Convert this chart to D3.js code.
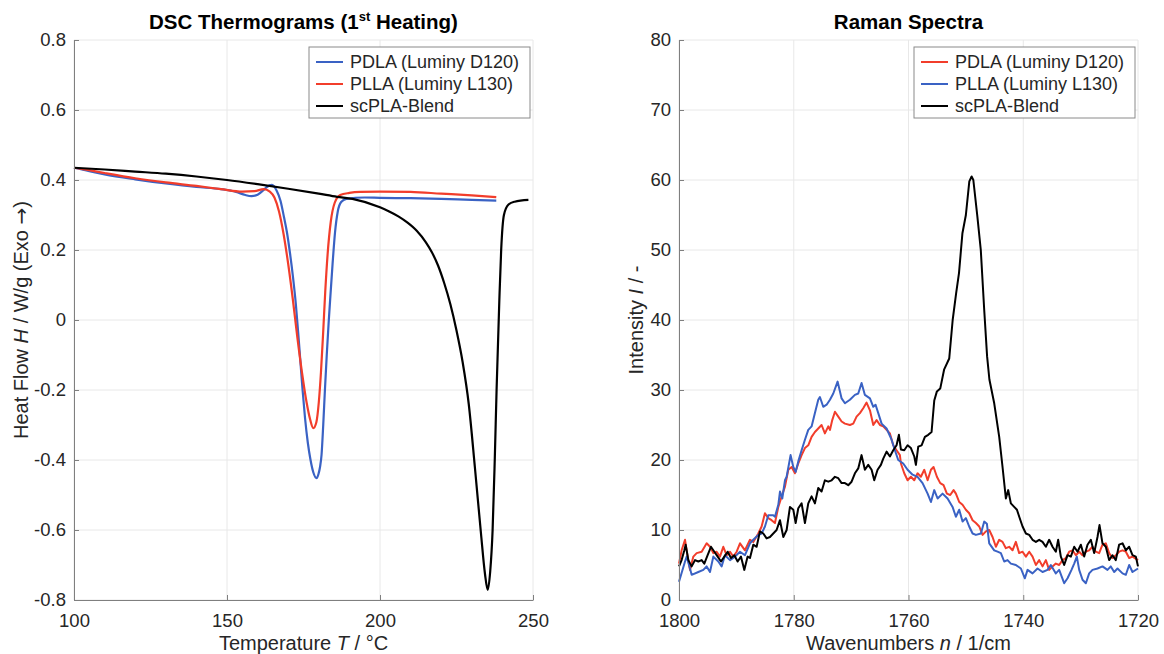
<!DOCTYPE html>
<html>
<head>
<meta charset="utf-8">
<script src="https://cdn.jsdelivr.net/npm/d3@7"></script>
<style>
body { margin: 0; background: #fff; }
</style>
</head>
<body>
<div id="chart"></div>
<script>
// ---- DSC thermograms (1st heating) ----
const dscTicksX = [100, 150, 200, 250];
const dscTicksY = [-0.8, -0.6, -0.4, -0.2, 0, 0.2, 0.4, 0.6, 0.8];

const pdlaDscT = [100, 105, 110, 120, 130, 140, 148, 153, 156, 158, 160, 162, 163, 164.7, 166.2, 167.5, 168.6, 169.6, 170.6, 171.6, 172.5, 173.3, 174, 174.7, 175.5, 176.4, 177.3, 178.2, 179.3, 179.9, 180.4, 180.9, 181.45, 182, 182.6, 183.2, 183.8, 184.5, 185.3, 186.2, 187.3, 189, 195, 200, 210, 220, 230, 238];
const pdlaDscH = [0.435, 0.425, 0.416, 0.402, 0.39, 0.38, 0.374, 0.366, 0.357, 0.354, 0.358, 0.372, 0.38, 0.386, 0.37, 0.34, 0.295, 0.25, 0.19, 0.12, 0.045, -0.04, -0.12, -0.2, -0.28, -0.35, -0.4, -0.435, -0.452, -0.44, -0.42, -0.385, -0.3, -0.2, -0.1, -0.01, 0.07, 0.16, 0.25, 0.31, 0.337, 0.346, 0.35, 0.349, 0.348, 0.346, 0.343, 0.341];

const pllaDscT = [100, 105, 110, 120, 130, 140, 148, 155, 159, 162, 164, 165.5, 167, 168.5, 170, 171.5, 173, 174.5, 176, 177.2, 178.2, 179.2, 180, 180.7, 181.4, 182.1, 182.9, 183.9, 185.2, 187, 190, 193.5, 200, 210, 220, 230, 238];
const pllaDscH = [0.435, 0.428, 0.42, 0.405, 0.393, 0.383, 0.374, 0.367, 0.368, 0.374, 0.367, 0.35, 0.31, 0.245, 0.16, 0.06, -0.05, -0.15, -0.235, -0.285, -0.309, -0.292, -0.235, -0.15, -0.04, 0.08, 0.19, 0.28, 0.335, 0.357, 0.363, 0.366, 0.367, 0.366, 0.361, 0.356, 0.351];

const blendDscT = [100, 110, 120, 130, 140, 150, 160, 170, 180, 186, 191, 200, 203, 206, 209, 212, 215, 217, 219, 221, 223, 225, 227, 229, 231, 233, 234.3, 235.2, 236, 236.8, 237.5, 238.1, 239, 239.6, 240.5, 242, 244, 248.5];
const blendDscH = [0.435, 0.43, 0.424, 0.418, 0.41, 0.4, 0.388, 0.375, 0.361, 0.352, 0.346, 0.322, 0.31, 0.296, 0.278, 0.255, 0.222, 0.193, 0.155, 0.105, 0.045, -0.03, -0.12, -0.24, -0.42, -0.61, -0.725, -0.771, -0.72, -0.6, -0.4, -0.2, 0.057, 0.2, 0.3, 0.33, 0.338, 0.343];

// ---- Raman spectra ----
const ramanTicksX = [1800, 1780, 1760, 1740, 1720];
const ramanTicksY = [0, 10, 20, 30, 40, 50, 60, 70, 80];

const pdlaRamanWn = [1800, 1799.54, 1798.95, 1798.49, 1798.08, 1797.5, 1796.92, 1796.05, 1795.18, 1794.6,
  1794.02, 1793.44, 1792.86, 1792.28, 1791.7, 1791.11, 1790.53, 1789.95, 1789.37, 1788.5,
  1787.63, 1787.05, 1786.18, 1785.6, 1785.02, 1784.44, 1783.86, 1783.28, 1782.69, 1782.11,
  1781.53, 1780.95, 1780.37, 1779.79, 1779.21, 1778.63, 1778.05, 1777.47, 1776.89, 1776.31,
  1775.73, 1775.15, 1774.57, 1773.98, 1773.69, 1773.29, 1772.82, 1772.24, 1771.66, 1771.08,
  1770.21, 1769.63, 1769.05, 1768.47, 1767.89, 1767.31, 1766.72, 1766.14, 1765.56, 1764.98,
  1764.4, 1763.82, 1763.24, 1762.66, 1762.08, 1761.5, 1761.32, 1760.74, 1760.16,
  1759.58, 1759.0, 1758.42, 1757.84, 1757.25, 1756.67, 1756.09, 1755.63, 1755.05, 1754.47,
  1753.89, 1753.31, 1752.73, 1752.14, 1751.74, 1751.16, 1750.58, 1750.0, 1749.42, 1748.83,
  1748.25, 1747.67, 1747.09, 1746.51, 1745.93, 1745.35, 1744.77, 1744.19, 1743.61, 1743.03,
  1742.45, 1741.87, 1741.29, 1740.71, 1740.12, 1739.54, 1738.96, 1738.38, 1737.8, 1737.22,
  1736.64, 1736.06, 1735.48, 1734.9, 1734.32, 1733.74, 1733.16, 1732.57, 1731.99, 1731.41,
  1730.83, 1730.25, 1729.67, 1729.09, 1728.51, 1727.93, 1727.35, 1726.77, 1726.19, 1725.61,
  1725.03, 1724.45, 1723.87, 1723.29, 1722.7, 1722.12, 1721.54, 1720.96, 1720.0];
const pdlaRamanInt = [5.2, 7.1, 8.6, 6.2, 4.3, 6.2, 6.7, 6.9, 8.1, 7.6,
  6.7, 6.9, 6.2, 7.6, 6.4, 6.9, 6.2, 6.9, 8.1, 7.1,
  8.6, 8.3, 9.5, 10.5, 12.4, 11.7, 11.4, 11.0, 13.3, 14.8,
  16.2, 18.6, 19.0, 18.1, 19.5, 20.7, 21.7, 22.1, 23.3, 24.0,
  24.5, 25.0, 23.8, 24.8, 24.3, 25.7, 26.9, 26.2, 25.5, 25.2,
  25.0, 25.2, 26.2, 26.7, 27.4, 28.2, 27.1, 25.0, 25.7, 25.0,
  24.8, 24.3, 23.8, 22.1, 21.4, 20.7, 19.5, 18.1, 17.1,
  17.6, 17.1, 18.1, 17.6, 18.6, 17.1, 18.6, 19.0, 17.6, 16.7,
  16.4, 15.2, 15.0, 15.7, 15.2, 14.0, 13.6, 12.9, 12.4, 11.4,
  11.0, 10.5, 9.3, 9.8, 10.0, 9.0, 7.6, 8.6, 8.3, 7.4,
  7.6, 7.1, 8.3, 6.7, 6.9, 6.2, 6.9, 6.2, 5.0, 5.7,
  4.8, 5.7, 4.3, 4.8, 5.2, 5.0, 5.7, 6.0, 6.9, 7.1,
  6.4, 6.9, 6.4, 6.9, 7.1, 7.6, 6.9, 6.7, 7.9, 8.1,
  6.7, 6.0, 6.4, 6.9, 7.1, 6.9, 6.0, 6.2, 5.7];

const pllaRamanWn = [1800, 1798.95, 1798.66, 1797.79, 1796.63, 1795.76, 1795.18, 1794.6, 1794.02, 1793.15,
  1792.57, 1791.99, 1791.11, 1790.24, 1789.37, 1788.5, 1787.63, 1787.05, 1786.18, 1785.6,
  1785.02, 1784.44, 1783.57, 1783.28, 1782.69, 1782.4, 1782.0, 1781.53, 1781.24, 1780.55,
  1780.08, 1779.67, 1779.21, 1778.63, 1778.05, 1777.47, 1776.89, 1776.31, 1775.73, 1775.44,
  1774.86, 1774.27, 1773.69, 1773.11, 1772.36, 1771.66, 1771.08, 1770.21, 1769.34, 1768.76,
  1768.18, 1767.6, 1766.72, 1766.14, 1765.74, 1765.27, 1764.69, 1763.82, 1762.95, 1762.37,
  1761.79, 1760.92, 1760.16, 1759.29, 1758.42, 1757.55, 1756.67, 1756.09, 1755.51, 1754.93,
  1754.06, 1753.19, 1752.32, 1751.74, 1751.16, 1750.58, 1750.0, 1749.42, 1748.83, 1748.25,
  1747.38, 1746.8, 1746.34, 1745.93, 1745.06, 1744.48, 1743.9, 1743.32, 1742.74, 1742.16,
  1741.29, 1740.41, 1739.72, 1739.25, 1738.38, 1737.51, 1736.64, 1735.77, 1735.19, 1734.32,
  1733.74, 1732.87, 1732.28, 1731.59, 1731.12, 1730.66, 1730.25, 1729.67, 1729.09, 1728.51,
  1727.93, 1727.06, 1726.19, 1725.32, 1724.74, 1724.15, 1723.57, 1722.7, 1722.12, 1721.54,
  1720.96, 1720.0];
const pllaRamanInt = [2.6, 5.5, 6.2, 3.6, 4.0, 4.3, 4.8, 4.0, 6.2, 5.5,
  4.8, 6.4, 5.7, 6.2, 6.9, 6.4, 8.1, 8.6, 9.3, 9.5,
  10.5, 12.1, 12.1, 11.9, 13.6, 15.5, 14.5, 17.1, 17.6, 20.7,
  19.0, 18.3, 19.8, 21.4, 22.9, 24.3, 24.8, 26.7, 28.6, 29.0,
  27.6, 27.9, 28.6, 29.5, 31.2, 28.8, 28.1, 28.6, 29.3, 29.5,
  31.0, 29.3, 28.8, 27.6, 27.9, 26.7, 25.2, 24.5, 22.9, 21.4,
  20.0, 19.5, 18.6, 17.9, 17.6, 16.7, 15.2, 14.0, 15.7, 14.5,
  15.2, 14.5, 13.3, 11.9, 12.9, 11.2, 11.7, 10.5, 9.5, 9.3,
  9.5, 11.2, 10.9, 8.1, 7.1, 6.9, 6.7, 5.5, 5.7, 5.2,
  5.0, 4.5, 3.1, 4.3, 3.8, 4.5, 4.0, 4.3, 5.0, 3.8,
  4.3, 2.4, 3.1, 4.3, 5.2, 6.2, 4.3, 2.9, 2.4, 3.8,
  4.3, 4.5, 4.8, 4.3, 4.8, 4.0, 4.5, 3.8, 3.6, 5.0,
  4.0, 4.5];

const blendRamanWn = [1800, 1799.54, 1799.07, 1798.84, 1798.37, 1797.79, 1797.21, 1796.63, 1796.05, 1795.59,
  1795.01, 1794.43, 1793.84, 1793.26, 1792.68, 1792.1, 1791.52, 1790.94, 1790.36, 1789.78,
  1789.2, 1788.62, 1788.04, 1787.63, 1787.05, 1786.47, 1785.89, 1785.31, 1784.73, 1784.15,
  1783.57, 1782.99, 1782.4, 1781.82, 1781.24, 1780.66, 1780.08, 1779.67, 1779.21, 1778.63,
  1778.05, 1777.47, 1776.89, 1776.31, 1775.73, 1775.15, 1774.57, 1773.98, 1773.4, 1772.82,
  1772.24, 1771.66, 1771.08, 1770.5, 1769.92, 1769.34, 1768.76, 1768.18, 1767.6, 1767.02,
  1766.43, 1765.97, 1765.39, 1764.81, 1764.4, 1763.82, 1763.24, 1762.66, 1762.08, 1761.67,
  1761.32, 1760.74, 1760.16, 1759.58, 1758.99, 1758.71, 1758.3, 1757.72, 1757.14, 1756.56,
  1755.98, 1755.51, 1755.05, 1754.47, 1753.8, 1752.9, 1752.3, 1751.7, 1751.2, 1750.6,
  1750.0, 1749.4, 1749.0, 1748.7, 1748.0, 1747.4, 1746.8, 1746.3, 1745.9, 1745.06,
  1744.19, 1743.61, 1743.03, 1742.62, 1742.16, 1741.58, 1741.1, 1740.7, 1740.12, 1739.54,
  1738.96, 1738.38, 1737.8, 1737.22, 1736.64, 1736.06, 1735.48, 1734.9, 1734.32, 1733.91,
  1733.45, 1732.87, 1732.28, 1731.7, 1731.12, 1730.54, 1729.96, 1729.38, 1728.8, 1728.22,
  1727.64, 1727.06, 1726.71, 1726.19, 1725.61, 1725.03, 1724.45, 1723.87, 1723.29, 1722.7,
  1722.12, 1721.54, 1720.96, 1720.38, 1720.0];
const blendRamanInt = [4.8, 5.7, 7.1, 7.9, 5.7, 4.8, 5.7, 5.5, 5.7, 5.2,
  6.4, 7.6, 6.9, 6.2, 5.5, 6.2, 6.9, 6.0, 6.4, 5.5,
  6.2, 4.3, 6.2, 6.0, 7.9, 7.6, 9.8, 9.5, 8.8, 9.0,
  9.5, 10.0, 11.4, 9.0, 10.0, 13.3, 12.9, 11.0, 13.1, 13.8,
  11.0, 13.8, 14.8, 13.8, 16.0, 15.5, 17.1, 16.9, 17.1, 17.6,
  17.4, 16.7, 16.7, 16.4, 16.9, 18.1, 18.8, 20.7, 18.6, 19.3,
  18.6, 17.1, 18.6, 19.3, 20.2, 21.2, 20.5, 21.4, 22.1, 23.6,
  21.5, 21.4, 22.1, 21.7, 20.5, 19.3, 21.9, 22.1, 23.3, 23.6,
  24.0, 28.5, 29.8, 30.2, 32.9, 34.5, 40.0, 43.8, 46.7, 52.4,
  55.0, 59.8, 60.5, 60.0, 54.8, 50.0, 41.4, 34.8, 31.5, 28.1,
  23.3, 19.0, 14.5, 15.7, 13.8, 13.3, 12.9, 11.9, 10.5, 9.5,
  9.3, 8.6, 8.3, 8.6, 8.3, 7.6, 8.6, 7.6, 6.9, 8.6,
  6.2, 5.0, 6.4, 6.2, 7.6, 6.9, 7.9, 6.2, 7.9, 8.6,
  6.7, 9.0, 10.7, 8.1, 7.6, 5.7, 6.4, 5.7, 7.9, 8.1,
  7.1, 7.6, 6.4, 6.2, 4.8];

const seriesNames = ["PDLA (Luminy D120)", "PLLA (Luminy L130)", "scPLA-Blend"];
const blue = "#3a62c4", red = "#f23d2b", black = "#000000";

const FONT = '"Liberation Sans", Arial, Helvetica, sans-serif';
const TXT = "#262626";

const svg = d3.select("#chart")
    .append("svg")
    .attr("width", 1164)
    .attr("height", 654)
    .style("font-family", FONT);

function addParts(sel, parts) {
    parts.forEach(p => {
        sel.append("tspan")
            .attr("font-style", p.italic ? "italic" : null)
            .attr("font-family", p.font || null)
            .attr("dy", p.dy || null)
            .attr("font-size", p.size || null)
            .text(p.text);
    });
}

function drawPanel(cfg) {
    const x = d3.scaleLinear().domain(cfg.xDomain).range([cfg.left, cfg.right]);
    const y = d3.scaleLinear().domain(cfg.yDomain).range([cfg.bottom, cfg.top]);
    const g = svg.append("g");

    // grid
    g.append("g").selectAll("line")
        .data(cfg.xTicks)
        .join("line")
        .attr("x1", d => x(d)).attr("x2", d => x(d))
        .attr("y1", cfg.top).attr("y2", cfg.bottom)
        .attr("stroke", "#e8e8e8").attr("stroke-width", 1);
    g.append("g").selectAll("line")
        .data(cfg.yTicks)
        .join("line")
        .attr("x1", cfg.left).attr("x2", cfg.right)
        .attr("y1", d => y(d)).attr("y2", d => y(d))
        .attr("stroke", "#e8e8e8").attr("stroke-width", 1);

    const line = d3.line()
        .x(d => x(d[0]))
        .y(d => y(d[1]))
        .curve(cfg.curve);

    cfg.series.forEach(s => {
        g.append("path")
            .datum(d3.zip(s.xs, s.ys))
            .attr("d", line)
            .attr("fill", "none")
            .attr("stroke", s.color)
            .attr("stroke-width", cfg.lineWidth)
            .attr("stroke-linejoin", "round");
    });

    const xAxis = g.append("g")
        .attr("transform", `translate(0,${cfg.bottom})`)
        .call(d3.axisBottom(x).tickValues(cfg.xTicks).tickSize(-5).tickSizeOuter(0).tickPadding(14).tickFormat(d => String(d)));
    const yAxis = g.append("g")
        .attr("transform", `translate(${cfg.left},0)`)
        .call(d3.axisLeft(y).tickValues(cfg.yTicks).tickSize(-5).tickSizeOuter(0).tickPadding(8).tickFormat(cfg.yFormat));
    [xAxis, yAxis].forEach(a => {
        a.attr("font-family", FONT).attr("font-size", 18.5);
        a.select(".domain").attr("stroke", "#7f7f7f");
        a.selectAll(".tick line").attr("stroke", "#7f7f7f");
        a.selectAll(".tick text").attr("fill", TXT);
    });

    const cx = (cfg.left + cfg.right) / 2;

    // title
    const t = g.append("text")
        .attr("x", cx).attr("y", 29)
        .attr("text-anchor", "middle")
        .attr("font-weight", "bold")
        .attr("font-size", 20.5)
        .attr("fill", "#000");
    addParts(t, cfg.title);

    // x label
    const xl = g.append("text")
        .attr("x", cx).attr("y", 650)
        .attr("text-anchor", "middle")
        .attr("font-size", 20)
        .attr("fill", TXT);
    addParts(xl, cfg.xLabel);

    // y label
    const yl = g.append("text")
        .attr("transform", `translate(${cfg.yLabelX},${(cfg.top + cfg.bottom) / 2}) rotate(-90)`)
        .attr("text-anchor", "middle")
        .attr("font-size", 20)
        .attr("fill", TXT);
    addParts(yl, cfg.yLabel);

    // legend
    const lw = 221;
    const lg = g.append("g").attr("transform", `translate(${cfg.right - lw - 3},47)`);
    lg.append("rect")
        .attr("width", lw).attr("height", 71)
        .attr("fill", "#fff").attr("stroke", "#8a8a8a").attr("stroke-width", 1);
    cfg.legend.forEach((d, i) => {
        const yy = 15 + i * 22;
        lg.append("line")
            .attr("x1", 7).attr("x2", 34).attr("y1", yy).attr("y2", yy)
            .attr("stroke", d.color).attr("stroke-width", 2);
        lg.append("text")
            .attr("x", 41).attr("y", yy).attr("dy", "0.36em")
            .attr("font-size", 18).attr("fill", TXT)
            .text(d.name);
    });
}

drawPanel({
    left: 74, right: 533, top: 40, bottom: 600,
    xDomain: [100, 250], yDomain: [-0.8, 0.8],
    xTicks: dscTicksX, yTicks: dscTicksY,
    yFormat: d => String(+d.toFixed(1)),
    curve: d3.curveMonotoneX, lineWidth: 2.2,
    series: [
        {xs: pdlaDscT, ys: pdlaDscH, color: blue},
        {xs: pllaDscT, ys: pllaDscH, color: red},
        {xs: blendDscT, ys: blendDscH, color: black}
    ],
    title: [{text: "DSC Thermograms (1"}, {text: "st", dy: -8, size: 13}, {text: " Heating)", dy: 8}],
    xLabel: [{text: "Temperature "}, {text: "T", italic: true}, {text: " / °C"}],
    yLabel: [{text: "Heat Flow "}, {text: "H", italic: true}, {text: " / W/g (Exo "}, {text: "→", font: "DejaVu Sans"}, {text: ")"}],
    yLabelX: 28,
    legend: [
        {name: seriesNames[0], color: blue},
        {name: seriesNames[1], color: red},
        {name: seriesNames[2], color: black}
    ]
});

drawPanel({
    left: 679, right: 1138, top: 40, bottom: 600,
    xDomain: [1800, 1720], yDomain: [0, 80],
    xTicks: ramanTicksX, yTicks: ramanTicksY,
    yFormat: d => String(d),
    curve: d3.curveLinear, lineWidth: 2,
    series: [
        {xs: pdlaRamanWn, ys: pdlaRamanInt, color: red},
        {xs: pllaRamanWn, ys: pllaRamanInt, color: blue},
        {xs: blendRamanWn, ys: blendRamanInt, color: black}
    ],
    title: [{text: "Raman Spectra"}],
    xLabel: [{text: "Wavenumbers "}, {text: "n", italic: true}, {text: " / 1/cm"}],
    yLabel: [{text: "Intensity "}, {text: "I", italic: true}, {text: " / -"}],
    yLabelX: 643,
    legend: [
        {name: seriesNames[0], color: red},
        {name: seriesNames[1], color: blue},
        {name: seriesNames[2], color: black}
    ]
});
</script>
</body>
</html>
